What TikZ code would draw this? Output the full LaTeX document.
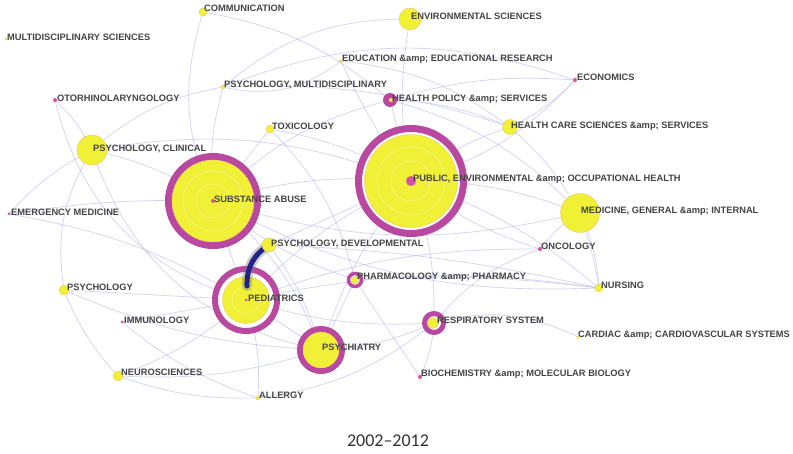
\documentclass[tikz,border=0pt]{standalone}
\usepackage{fontspec}
\newfontfamily\labfont{Liberation Sans}
\newfontfamily\titlefont{Carlito}
\definecolor{edgec}{RGB}{180,180,235}
\definecolor{nodey}{RGB}{240,240,55}
\definecolor{nodeo}{RGB}{245,185,100}
\definecolor{nodem}{RGB}{185,72,160}
\definecolor{nodep}{RGB}{215,80,165}
\definecolor{labc}{RGB}{68,68,68}
\definecolor{navyc}{RGB}{35,35,135}
\tikzset{
  edge/.style={draw=edgec, line width=0.7pt, opacity=0.6},
  ydot/.style={circle, fill=nodey, draw=nodeo, line width=0.3pt, inner sep=0pt, minimum size=#1},
  mdot/.style={circle, fill=nodep, inner sep=0pt, minimum size=#1},
  ringn/.style={circle, draw=nodem, fill=white, line width=#1, inner sep=0pt},
  lab/.style={font=\labfont\bfseries\fontsize{9.3}{10}\selectfont, text=labc, inner sep=0pt, anchor=base west},
  halo/.style={draw=nodey!55!white, line width=0.8pt, opacity=0.7},
}
\begin{document}
\begin{tikzpicture}[x=1pt,y=-1pt]
\useasboundingbox[fill=white] (0,0) rectangle (793,454);
% ---------- node positions (coordinates for edges) ----------
\coordinate (com) at (203,12);
\coordinate (mul) at (6,39);
\coordinate (env) at (410,19);
\coordinate (edu) at (341,61);
\coordinate (eco) at (575,80);
\coordinate (pmu) at (223,87);
\coordinate (hpo) at (390,100);
\coordinate (oto) at (55,100);
\coordinate (hcs) at (510,127);
\coordinate (tox) at (270,129);
\coordinate (pcl) at (92,150);
\coordinate (pub) at (411,181);
\coordinate (sub) at (213,201);
\coordinate (med) at (580,213);
\coordinate (eme) at (9,214);
\coordinate (pde) at (269,245);
\coordinate (onc) at (540,249);
\coordinate (pha) at (355,280);
\coordinate (nur) at (599,288);
\coordinate (psy) at (64,290);
\coordinate (ped) at (246,300);
\coordinate (pedin) at (247,286);
\coordinate (imm) at (122,322);
\coordinate (res) at (434,323);
\coordinate (car) at (578,337);
\coordinate (pst) at (321,350);
\coordinate (neu) at (118,376);
\coordinate (bio) at (420,377);
\coordinate (all) at (258,398);
% ---------- edges ----------
\draw[edge] (com) to[bend right=20] (sub);
\draw[edge] (com) to[bend left=15] (hpo);
\draw[edge] (env) to[bend right=10] (pub);
\draw[edge] (env) to[bend right=20] (pmu);
\draw[edge] (edu) to[bend left=25] (pmu);
\draw[edge] (edu) to[bend left=15] (hcs);
\draw[edge] (edu) to[bend right=5] (pub);
\draw[edge] (eco) to[bend right=10] (hpo);
\draw[edge] (eco) to[bend left=15] (pub);
\draw[edge] (eco) to[bend left=10] (hcs);
\draw[edge] (eco) to[bend right=20] (pmu);
\draw[edge] (hpo) to (pub);
\draw[edge] (hpo) to[bend left=10] (hcs);
\draw[edge] (hpo) to[bend right=15] (sub);
\draw[edge] (hpo) to[bend left=15] (med);
\draw[edge] (pmu) to[bend right=10] (sub);
\draw[edge] (pmu) to[bend right=15] (pcl);
\draw[edge] (pmu) to[bend left=10] (hcs);
\draw[edge] (oto) to[bend right=30] (ped);
\draw[edge] (oto) to[bend left=10] (pcl);
\draw[edge] (pcl) to[bend left=10] (sub);
\draw[edge] (pcl) to[bend right=30] (pst);
\draw[edge] (pcl) to[bend right=20] (psy);
\draw[edge] (pcl) to[bend left=15] (pub);
\draw[edge] (pcl) to[bend right=10] (eme);
\draw[edge] (tox) to[bend left=10] (pub);
\draw[edge] (tox) to[bend left=15] (pha);
\draw[edge] (tox) to (sub);
\draw[edge] (sub) to[bend left=10] (pub);
\draw[edge] (sub) to[bend left=15] (pst);
\draw[edge] (sub) to (ped);
\draw[edge] (sub) to[bend right=10] (pha);
\draw[edge] (sub) to[bend right=5] (eme);
\draw[edge] (sub) to[bend right=15] (med);
\draw[edge] (sub) to[bend right=15] (nur);
\draw[edge] (pub) to[bend left=10] (med);
\draw[edge] (pub) to[bend left=10] (hcs);
\draw[edge] (pub) to[bend right=10] (ped);
\draw[edge] (pub) to[bend left=10] (res);
\draw[edge] (pub) to[bend left=10] (nur);
\draw[edge] (pub) to[bend right=10] (onc);
\draw[edge] (pub) to[bend right=10] (pst);
\draw[edge] (pub) to (pde);
\draw[edge] (med) to[bend left=10] (nur);
\draw[edge] (med) to[bend right=10] (onc);
\draw[edge] (hcs) to[bend left=20] (nur);
\draw[edge] (onc) to[bend right=15] (res);
\draw[edge] (onc) to[bend right=10] (ped);
\draw[edge] (pde) to[bend left=10] (pst);
\draw[edge] (pde) to[bend left=5] (nur);
\draw[edge] (ped) to (pst);
\draw[edge] (ped) to (imm);
\draw[edge] (ped) to[bend left=10] (all);
\draw[edge] (ped) to[bend right=10] (res);
\draw[edge] (ped) to[bend left=10] (neu);
\draw[edge] (ped) to[bend left=10] (nur);
\draw[edge] (ped) to[bend right=10] (eme);
\draw[edge] (pst) to[bend left=10] (neu);
\draw[edge] (pst) to[bend left=10] (psy);
\draw[edge] (pst) to (pha);
\draw[edge] (pst) to[bend right=10] (res);
\draw[edge] (res) to[bend left=20] (car);
\draw[edge] (res) to[bend left=10] (bio);
\draw[edge] (res) to[bend left=15] (all);
\draw[edge] (pha) to[bend left=5] (nur);
\draw[edge] (imm) to[bend right=10] (all);
\draw[edge] (psy) to[bend right=10] (neu);
\draw[edge] (psy) to (ped);
\draw[edge] (neu) to[bend right=10] (all);
\draw[edge] (bio) to (pha);
% ---------- nodes ----------
\node[ydot=3pt] (n-mul) at (mul) {};
\node[ydot=8pt] (n-com) at (com) {};
\node[ydot=22pt] (n-env) at (env) {};
\node[ydot=3pt] (n-edu) at (edu) {};
\node[mdot=4pt] (n-eco) at (eco) {};
\node[ydot=4pt] (n-pmu) at (pmu) {};
\node[circle, fill=nodem, inner sep=0pt, minimum size=14pt] (n-hpo) at (hpo) {};
\node[ydot=4pt] (n-hpo-in) at ([xshift=1pt]hpo) {};
\node[mdot=4pt] (n-oto) at (oto) {};
\node[ydot=15pt] (n-hcs) at (hcs) {};
\node[ydot=8pt] (n-tox) at (tox) {};
\node[ydot=30pt] (n-pcl) at (pcl) {};
% public health
\node[ringn=7pt, minimum size=105pt] (n-pub) at (pub) {};
\node[ydot=93pt] (n-pub-in) at (pub) {};
\draw[halo] (pub) circle (34pt);
\draw[halo] (pub) circle (20pt);
\node[mdot=10pt] (n-pub-c) at (pub) {};
% substance abuse
\node[ringn=7pt, minimum size=89pt] (n-sub) at (sub) {};
\node[ydot=82pt] (n-sub-in) at (sub) {};
\draw[halo] (sub) circle (30pt);
\draw[halo] (sub) circle (17pt);
\node[mdot=4pt] (n-sub-c) at (sub) {};
\node[ydot=39pt] (n-med) at (med) {};
\node[mdot=3pt] (n-eme) at (eme) {};
\node[mdot=4pt] (n-onc) at (onc) {};
\node[ringn=3.5pt, minimum size=13pt] (n-pha) at (pha) {};
\node[ydot=7pt] (n-pha-in) at (pha) {};
\node[ydot=8pt] (n-nur) at (nur) {};
\node[ydot=10pt] (n-psy) at (psy) {};
% pediatrics
\node[ringn=6pt, minimum size=62pt] (n-ped) at (ped) {};
\node[ydot=47pt] (n-ped-in) at (ped) {};
\draw[halo] (ped) circle (14pt);
\node[mdot=3pt] (n-ped-c) at (ped) {};
% ---------- strong edge ----------
\draw[line width=10pt, black!50, opacity=0.4, line cap=round] (pde) to[bend right=30] (pedin);
\draw[line width=5pt, navyc, line cap=round] (pde) to[bend right=30] (pedin);
\node[ydot=14pt] (n-pde) at (pde) {};
\node[mdot=3pt] (n-imm) at (imm) {};
\node[ringn=5pt, minimum size=19pt] (n-res) at (res) {};
\node[ydot=11pt] (n-res-in) at ([xshift=-1pt]res) {};
\node[ydot=3pt] (n-car) at (car) {};
% psychiatry
\node[ringn=6pt, minimum size=42pt] (n-pst) at (pst) {};
\node[ydot=36pt] (n-pst-in) at (pst) {};
\node[ydot=10pt] (n-neu) at (neu) {};
\node[mdot=4pt] (n-bio) at (bio) {};
\node[ydot=4pt] (n-all) at (all) {};
% ---------- labels ----------
\node[lab] (l-com) at (204,11.4) {COMMUNICATION};
\node[lab] (l-mul) at (7,40.4) {MULTIDISCIPLINARY SCIENCES};
\node[lab] (l-env) at (411,19.4) {ENVIRONMENTAL SCIENCES};
\node[lab] (l-edu) at (342,61.4) {EDUCATION \&amp; EDUCATIONAL RESEARCH};
\node[lab] (l-eco) at (577,80.4) {ECONOMICS};
\node[lab] (l-pmu) at (224,87.4) {PSYCHOLOGY, MULTIDISCIPLINARY};
\node[lab] (l-hpo) at (392,101.4) {HEALTH POLICY \&amp; SERVICES};
\node[lab] (l-oto) at (57,101.4) {OTORHINOLARYNGOLOGY};
\node[lab] (l-hcs) at (511,128.4) {HEALTH CARE SCIENCES \&amp; SERVICES};
\node[lab] (l-tox) at (272,129.4) {TOXICOLOGY};
\node[lab] (l-pcl) at (93,151.4) {PSYCHOLOGY, CLINICAL};
\node[lab] (l-pub) at (413,181.6) {PUBLIC, ENVIRONMENTAL \&amp; OCCUPATIONAL HEALTH};
\node[lab] (l-sub) at (214,202.4) {SUBSTANCE ABUSE};
\node[lab] (l-med) at (581,213.4) {MEDICINE, GENERAL \&amp; INTERNAL};
\node[lab] (l-eme) at (11,215.4) {EMERGENCY MEDICINE};
\node[lab] (l-pde) at (271,246.4) {PSYCHOLOGY, DEVELOPMENTAL};
\node[lab] (l-onc) at (541,250) {ONCOLOGY};
\node[lab] (l-pha) at (357,280) {PHARMACOLOGY \&amp; PHARMACY};
\node[lab] (l-nur) at (601,288.4) {NURSING};
\node[lab] (l-psy) at (67,290.4) {PSYCHOLOGY};
\node[lab] (l-ped) at (248,301.4) {PEDIATRICS};
\node[lab] (l-imm) at (124,323.4) {IMMUNOLOGY};
\node[lab] (l-res) at (437,324) {RESPIRATORY SYSTEM};
\node[lab] (l-car) at (578,337.4) {CARDIAC \&amp; CARDIOVASCULAR SYSTEMS};
\node[lab] (l-pst) at (322,350.6) {PSYCHIATRY};
\node[lab] (l-neu) at (121,375.4) {NEUROSCIENCES};
\node[lab] (l-bio) at (421,376.4) {BIOCHEMISTRY \&amp; MOLECULAR BIOLOGY};
\node[lab] (l-all) at (259,398.4) {ALLERGY};
% ---------- title ----------
\node[font=\titlefont\fontsize{18}{20}\selectfont, text=black!80, inner sep=0pt] (title) at (388,441) {2002\textendash 2012};
\end{tikzpicture}
\end{document}
